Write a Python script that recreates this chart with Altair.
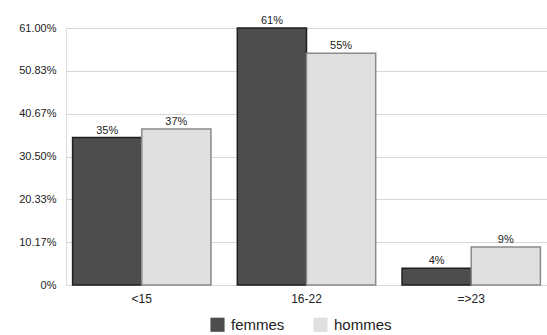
import altair as alt
import pandas as pd

categories = ["<15", "16-22", "=>23"]
series = ["femmes", "hommes"]
femmes = [35, 61, 4]
hommes = [37, 55, 9]
y_ticks = [0, 10.17, 20.33, 30.50, 40.67, 50.83, 61.00]

rows = []
for c, f, h in zip(categories, femmes, hommes):
    rows.append({"cat": c, "serie": "femmes", "val": f, "lab": f"{f}%"})
    rows.append({"cat": c, "serie": "hommes", "val": h, "lab": f"{h}%"})
df = pd.DataFrame(rows)

FONT = "Liberation Sans"

x = alt.X("cat:N", sort=categories, title=None,
          scale=alt.Scale(paddingInner=0.16, paddingOuter=0.04),
          axis=alt.Axis(labelAngle=0, domain=False, ticks=False, labelPadding=8,
                        labelFont=FONT, labelFontSize=12, labelColor="#222"))
y = alt.Y("val:Q", title=None,
          scale=alt.Scale(domain=[0, 61], nice=False, zero=True),
          axis=alt.Axis(values=y_ticks, domain=False, ticks=False, labelPadding=10,
                        labelExpr="datum.value == 0 ? '0%' : format(datum.value, '.2f') + '%'",
                        labelFont=FONT, labelFontSize=11, labelColor="#222",
                        gridColor="#d6d6d6", gridWidth=1))
xo = alt.XOffset("serie:N", sort=series)

color = alt.Color("serie:N", sort=series, title=None,
                  scale=alt.Scale(domain=series, range=["#4d4d4d", "#e0e0e0"]),
                  legend=alt.Legend(orient="none", legendX=144, legendY=289, direction="horizontal",
                                    symbolType="square", symbolSize=200, symbolStrokeWidth=0,
                                    labelFont=FONT, labelFontSize=15, labelColor="#222",
                                    columnPadding=28, labelOffset=6))
stroke = alt.Stroke("serie:N", sort=series, legend=None,
                    scale=alt.Scale(domain=series, range=["#1e1e1e", "#8a8a8a"]))

bars = alt.Chart(df).mark_bar(strokeWidth=1.5).encode(
    x=x, y=y, xOffset=xo, color=color, stroke=stroke)

labels = alt.Chart(df).mark_text(dy=-7, font=FONT, fontSize=11, color="#222").encode(
    x=alt.X("cat:N", sort=categories), y="val:Q", xOffset=xo, text="lab:N")

chart = alt.layer(bars, labels).properties(
    width=481, height=257,
    autosize=alt.AutoSizeParams(type="none"),
    padding={"left": 66, "top": 28, "right": 0, "bottom": 50},
).configure_view(stroke=None).configure(background="white")

chart.save("out.html", embed_options={"renderer": "svg", "actions": False})
